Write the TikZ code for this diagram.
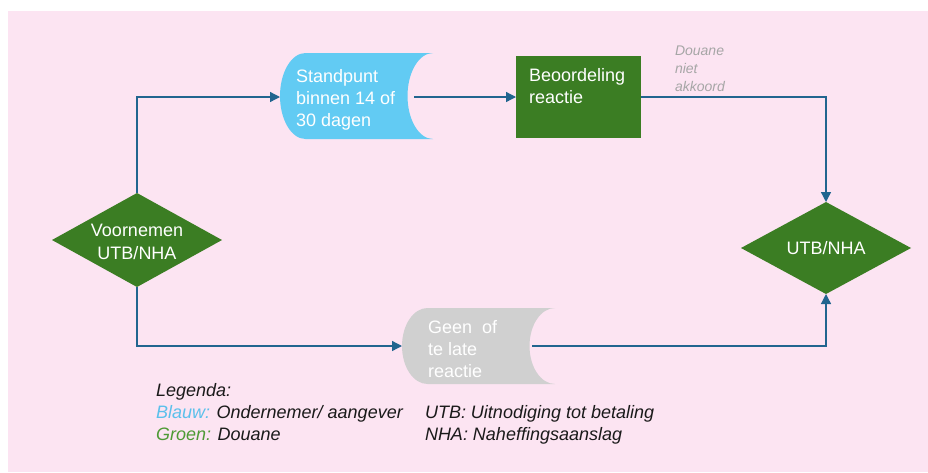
\documentclass[tikz,border=0pt]{standalone}
\usepackage{fontspec}
\setmainfont{Liberation Sans}
\usetikzlibrary{shapes.geometric,arrows.meta}
\definecolor{bgpink}{HTML}{FCE4F2}
\definecolor{bluec}{HTML}{62CBF3}
\definecolor{greenc}{HTML}{3B7D23}
\definecolor{grayc}{HTML}{D0D0D0}
\definecolor{arrc}{HTML}{21658F}
\definecolor{notec}{HTML}{A6A6A6}
\definecolor{legblue}{HTML}{5BC0EB}
\definecolor{leggreen}{HTML}{4E9A35}
\definecolor{legtext}{HTML}{1A1A1A}
\tikzset{
  dia/.style={shape=diamond, fill=greenc, inner sep=0pt, outer sep=0pt},
  procbox/.style={rectangle, fill=greenc, inner sep=0pt, outer sep=0pt},
  anchorbox/.style={rectangle, inner sep=0pt, outer sep=0pt},
  whitetxt/.style={text=white, inner sep=0pt, outer sep=0pt, font=\fontsize{18}{22}\selectfont},
  notetxt/.style={text=notec, inner sep=0pt, outer sep=0pt, align=left, font=\fontsize{14}{18}\selectfont\itshape},
  legtxt/.style={text=legtext, inner sep=0pt, outer sep=0pt, align=left, anchor=north west, font=\fontsize{18}{22}\selectfont\itshape},
  arr/.style={draw=arrc, line width=1.3pt, -{Triangle[length=10pt,width=10pt]}}
}
\begin{document}
\begin{tikzpicture}[x=1pt,y=-1pt]
\useasboundingbox (0,0) rectangle (928,472);
\fill[white] (0,0) rectangle (928,472);
\fill[bgpink] (8,11) rectangle (928,472);

% stored data shapes
\fill[bluec] (305.5,53) -- (433,53) arc[start angle=-90, end angle=-270, x radius=25.5, y radius=43] -- (305.5,139) arc[start angle=90, end angle=270, x radius=25.5, y radius=43] -- cycle;
\fill[grayc] (427.5,308) -- (555,308) arc[start angle=-90, end angle=-270, x radius=25.5, y radius=38] -- (427.5,384) arc[start angle=90, end angle=270, x radius=25.5, y radius=38] -- cycle;

% nodes
\node[dia, minimum width=170, minimum height=94] (v) at (137,240) {};
\node[whitetxt, align=center] (vt) at (137,242) {Voornemen\\[1pt]UTB/NHA};

\node[anchorbox, minimum width=134, minimum height=86] (s) at (347,97) {};
\node[whitetxt, align=left, anchor=north west] (st) at (296,69) {Standpunt\\binnen 14 of\\30 dagen};

\node[procbox, minimum width=125, minimum height=82] (b) at (578.5,97) {};
\node[whitetxt, align=left, anchor=north west] (bt) at (529,68) {Beoordeling\\reactie};

\node[dia, minimum width=170, minimum height=92] (u) at (826,248) {};
\node[whitetxt] (ut) at (826,248) {UTB/NHA};

\node[anchorbox, minimum width=130, minimum height=76] (g) at (467,346) {};
\node[whitetxt, align=left, anchor=north west] (gt) at (428,320) {Geen\ \ of\\te late\\reactie};

\node[notetxt, anchor=north west] (note) at (675,46) {Douane\\niet\\akkoord};

% connectors
\draw[arr] (v.north) |- (s.west);
\draw[arr] (s.east) -- (b.west);
\draw[arr] (b.east) -| (u.north);
\draw[arr] (v.south) |- (g.west);
\draw[arr] (g.east) -| (u.south);

% legend
\node[legtxt] (leg1) at (156,383) {Legenda:\\\textcolor{legblue}{Blauw:} Ondernemer/ aangever\\\textcolor{leggreen}{Groen:} Douane};
\node[legtxt] (leg2) at (425,405) {UTB: Uitnodiging tot betaling\\NHA: Naheffingsaanslag};
\end{tikzpicture}
\end{document}
